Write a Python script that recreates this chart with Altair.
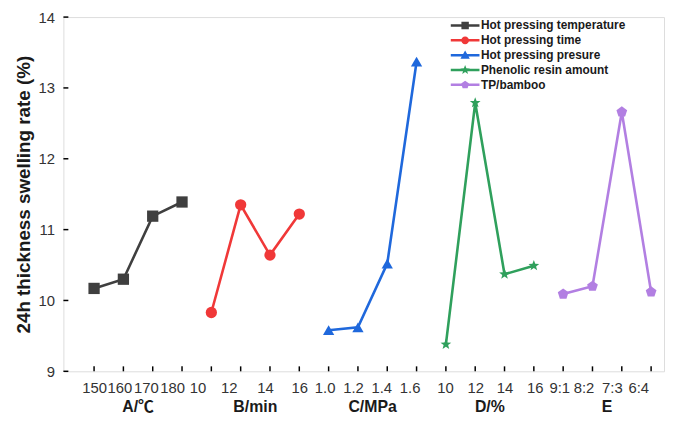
import math
import altair as alt
import pandas as pd

# ---------------- data ----------------
series = ["Hot pressing temperature", "Hot pressing time", "Hot pressing presure",
          "Phenolic resin amount", "TP/bamboo"]
groups = ["A/℃", "B/min", "C/MPa", "D/%", "E"]
tick_labels = ["150", "160", "170", "180",
               "10", "12", "14", "16",
               "1.0", "1.2", "1.4", "1.6",
               "10", "12", "14", "16",
               "9:1", "8:2", "7:3", "6:4"]
values_A = [10.17, 10.30, 11.19, 11.39]
values_B = [9.83, 11.35, 10.64, 11.22]
values_C = [9.58, 9.62, 10.52, 13.37]
values_D = [9.38, 12.79, 10.37, 10.49]
values_E = [10.09, 10.20, 12.66, 10.12]
y_ticks = [9, 10, 11, 12, 13, 14]

colors = ["#3f3f3f", "#f03838", "#1f68dc", "#2fa05c", "#b27fe2"]

all_values = [values_A, values_B, values_C, values_D, values_E]
rows = []
idx = 1
for s, vals in zip(series, all_values):
    for v in vals:
        rows.append({"idx": idx, "value": v, "series": s, "label": tick_labels[idx - 1]})
        idx += 1
df = pd.DataFrame(rows)

grp_rows = []
for g, s in zip(groups, series):
    sub = df[df["series"] == s]["idx"]
    grp_rows.append({"group": g, "center": float(sub.mean())})
grp_df = pd.DataFrame(grp_rows)
xt_df = pd.DataFrame({"idx": list(range(1, len(tick_labels) + 1))})
yt_df = pd.DataFrame({"v": y_ticks})

# ---------------- shapes ----------------
def poly(n, R, r=None, rot=-90.0):
    pts = []
    if r is None:
        for k in range(n):
            a = math.radians(rot + k * 360.0 / n)
            pts.append((R * math.cos(a), R * math.sin(a)))
    else:
        for k in range(2 * n):
            a = math.radians(rot + k * 180.0 / n)
            rr = R if k % 2 == 0 else r
            pts.append((rr * math.cos(a), rr * math.sin(a)))
    return "M" + "L".join(f"{x:.3f},{y:.3f}" for x, y in pts) + "Z"

star_path = poly(5, 1.0, 0.42)
pent_path = poly(5, 1.0)
chart_shapes = ["square", "circle", "triangle-up", star_path, pent_path]

bar = "M-2.9,-0.25H2.9V0.25H-2.9Z"
leg_shapes = [
    bar + "M-0.75,-0.75H0.75V0.75H-0.75Z",
    bar + "M-0.8,0A0.8,0.8,0,1,1,0.8,0A0.8,0.8,0,1,1,-0.8,0Z",
    bar + "M0,-0.95L0.95,0.7L-0.95,0.7Z",
    bar + poly(5, 1.0, 0.42),
    bar + poly(5, 0.85),
]

# small horizontal nudges of the tick labels, as placed in the original figure (px)
label_nudge = [0, -4, -7, -10, -14, -12, -5, 0, -4, -5, -6, -7, -1, 0, 0, 1, -4, -9, -10, -13]

# ---------------- chart ----------------
W, H = 607, 358
FONT = "Liberation Sans"
x_scale = alt.Scale(domain=[-0.046, 20.44], nice=False, zero=False)
y_scale = alt.Scale(domain=[9, 14], nice=False, zero=False)
label_expr = "[" + ",".join(f"'{t}'" for t in tick_labels) + "][datum.value - 1]"
nudge_expr = "[" + ",".join(str(n) for n in label_nudge) + "][datum.value - 1]"

x_axis = alt.Axis(values=list(range(1, len(tick_labels) + 1)), labelExpr=label_expr, title=None,
                  grid=False, ticks=False, tickSize=0, domain=False, labelFontSize=15,
                  labelFont=FONT, labelColor="#333333", labelPadding=9,
                  labelOffset=alt.ExprRef(expr=nudge_expr),
                  labelOverlap=False, labelFlush=False, labelBound=False)
y_axis = alt.Axis(values=y_ticks, title="24h thickness swelling rate (%)", grid=False,
                  ticks=False, tickSize=0, domain=False, labelFontSize=15, labelFont=FONT,
                  labelColor="#333333", labelPadding=9, titleFont=FONT, titleFontSize=19,
                  titleFontWeight="bold", titleColor="#1a1a1a", titlePadding=5,
                  labelFlush=False, labelOverlap=False)


def X(field):
    return alt.X(field, scale=x_scale, axis=x_axis)


def Y(field):
    return alt.Y(field, scale=y_scale, axis=y_axis)


def C(legend):
    return alt.Color("series:N", scale=alt.Scale(domain=series, range=colors), legend=legend)


base = alt.Chart(df)

lines = base.mark_line(strokeWidth=2.6).encode(
    x=X("idx:Q"), y=Y("value:Q"), color=C(None), detail="series:N", order="idx:Q",
)

points = base.mark_point(filled=True, opacity=1, size=130).encode(
    x=X("idx:Q"), y=Y("value:Q"), color=C(None),
    shape=alt.Shape("series:N", scale=alt.Scale(domain=series, range=chart_shapes), legend=None),
)

leg = alt.Legend(orient="none", legendX=400, legendY=2.5, title=None, labelFont=FONT,
                 labelFontSize=12, labelFontWeight="bold", labelColor="#1a1a1a",
                 symbolSize=100, symbolStrokeWidth=0, symbolOpacity=1, rowPadding=3,
                 labelOffset=10, padding=0)

legend_layer = base.mark_point(filled=True, opacity=0, size=10).encode(
    x=X("idx:Q"), y=Y("value:Q"), color=C(leg),
    shape=alt.Shape("series:N", scale=alt.Scale(domain=series, range=leg_shapes), legend=leg),
)

xticks = alt.Chart(xt_df).mark_rule(color="black", strokeWidth=1.5).encode(
    x=X("idx:Q"), y=alt.value(H), y2=alt.value(H - 5),
)
yticks = alt.Chart(yt_df).mark_rule(color="black", strokeWidth=1.5).encode(
    y=Y("v:Q"), x=alt.value(0), x2=alt.value(5),
)

grp_text = alt.Chart(grp_df).mark_text(font="Liberation Sans, Noto Sans CJK SC", fontSize=16,
                                       fontWeight="bold", baseline="middle", align="center",
                                       color="#1a1a1a").encode(
    x=X("center:Q"), y=alt.value(H + 36), text="group:N",
)

chart = alt.layer(lines, points, legend_layer, xticks, yticks, grp_text).resolve_scale(
    shape="independent", color="independent"
).properties(
    width=W, height=H,
    autosize=alt.AutoSizeParams(type="none"),
    padding={"left": 56, "top": 7, "right": 1, "bottom": 44},
).configure_view(stroke="black", strokeWidth=1.5).configure(background="white")

chart.save("out.html", embed_options={"renderer": "svg", "actions": False})
